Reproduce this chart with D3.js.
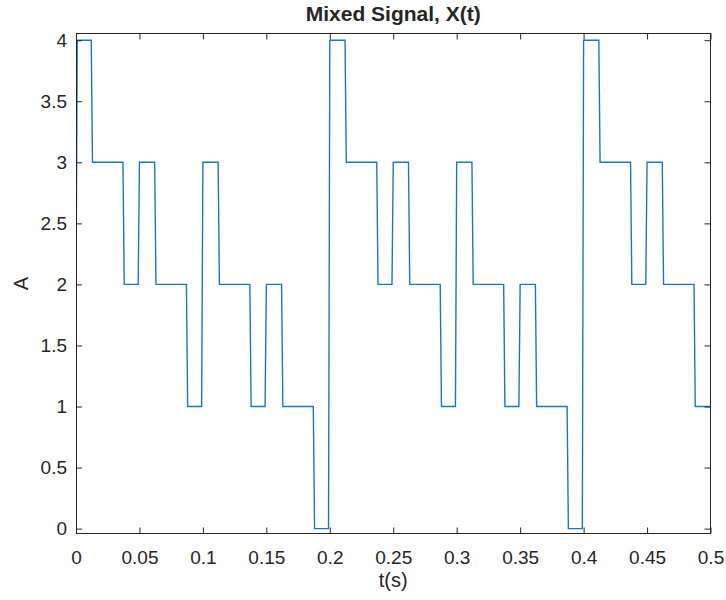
<!DOCTYPE html>
<html>
<head>
<meta charset="utf-8">
<script src="https://cdn.jsdelivr.net/npm/d3@7"></script>
<style>
  html, body { margin: 0; padding: 0; background: #ffffff; }
  svg { display: block; }
  text { font-family: "Liberation Sans", Arial, Helvetica, sans-serif; fill: #262626; }
</style>
</head>
<body>
<svg id="chart" width="726" height="600"></svg>
<script>
// ---- data ----
const timeValues = [
  0.000, 0.001, 0.012, 0.013, 0.037, 0.038, 0.049, 0.050, 0.062, 0.063,
  0.087, 0.088, 0.099, 0.100, 0.112, 0.113, 0.137, 0.138, 0.149, 0.150,
  0.162, 0.163, 0.187, 0.188, 0.199,
  0.200, 0.212, 0.213, 0.237, 0.238, 0.249, 0.250, 0.262, 0.263,
  0.287, 0.288, 0.299, 0.300, 0.312, 0.313, 0.337, 0.338, 0.349, 0.350,
  0.362, 0.363, 0.387, 0.388, 0.399,
  0.400, 0.412, 0.413, 0.437, 0.438, 0.449, 0.450, 0.462, 0.463,
  0.487, 0.488, 0.500
];
const signalValues = [
  2, 4, 4, 3, 3, 2, 2, 3, 3, 2,
  2, 1, 1, 3, 3, 2, 2, 1, 1, 2,
  2, 1, 1, 0, 0,
  4, 4, 3, 3, 2, 2, 3, 3, 2,
  2, 1, 1, 3, 3, 2, 2, 1, 1, 2,
  2, 1, 1, 0, 0,
  4, 4, 3, 3, 2, 2, 3, 3, 2,
  2, 1, 1
];
const xTicks = [0, 0.05, 0.1, 0.15, 0.2, 0.25, 0.3, 0.35, 0.4, 0.45, 0.5];
const xTickLabels = ["0", "0.05", "0.1", "0.15", "0.2", "0.25", "0.3", "0.35", "0.4", "0.45", "0.5"];
const yTicks = [0, 0.5, 1, 1.5, 2, 2.5, 3, 3.5, 4];
const yTickLabels = ["0", "0.5", "1", "1.5", "2", "2.5", "3", "3.5", "4"];
const xDomain = [0, 0.5];
const yDomain = [-0.04, 4.055];
const titleText = "Mixed Signal, X(t)";
const xLabelText = "t(s)";
const yLabelText = "A";

(function () {
  // ---- layout ----
  const pLeft = 76, pRight = 710.5, pTop = 33.5, pBottom = 533.5;
  const axisColor = "#262626";
  const lineColor = "#1a78c2";
  const tickLen = 6;

  const svg = d3.select("#chart");
  const x = d3.scaleLinear().domain(xDomain).range([pLeft, pRight]);
  const y = d3.scaleLinear().domain(yDomain).range([pBottom, pTop]);

  const points = timeValues.map((t, i) => [t, signalValues[i]]);

  svg.append("clipPath").attr("id", "clip")
    .append("rect").attr("x", pLeft).attr("y", pTop)
    .attr("width", pRight - pLeft).attr("height", pBottom - pTop);

  svg.append("path")
    .datum(points)
    .attr("clip-path", "url(#clip)")
    .attr("fill", "none")
    .attr("stroke", lineColor)
    .attr("stroke-width", 1.4)
    .attr("d", d3.line().x(d => x(d[0])).y(d => y(d[1])));

  function styleAxis(g, showLabels) {
    g.select(".domain").remove();
    g.selectAll(".tick line").attr("stroke", axisColor).attr("stroke-width", 1);
    g.selectAll(".tick text")
      .style("font-family", '"Liberation Sans", Arial, Helvetica, sans-serif')
      .style("font-size", "19px")
      .attr("fill", axisColor);
    if (!showLabels) g.selectAll(".tick text").remove();
  }

  svg.append("g").attr("transform", `translate(0,${pBottom})`)
    .call(d3.axisBottom(x).tickValues(xTicks).tickFormat((d, i) => xTickLabels[i])
      .tickSizeInner(-tickLen).tickSizeOuter(0).tickPadding(17))
    .call(g => styleAxis(g, true));

  svg.append("g").attr("transform", `translate(0,${pTop})`)
    .call(d3.axisTop(x).tickValues(xTicks).tickSizeInner(-tickLen).tickSizeOuter(0))
    .call(g => styleAxis(g, false));

  svg.append("g").attr("transform", `translate(${pLeft},0)`)
    .call(d3.axisLeft(y).tickValues(yTicks).tickFormat((d, i) => yTickLabels[i])
      .tickSizeInner(-tickLen).tickSizeOuter(0).tickPadding(9))
    .call(g => styleAxis(g, true));

  svg.append("g").attr("transform", `translate(${pRight},0)`)
    .call(d3.axisRight(y).tickValues(yTicks).tickSizeInner(-tickLen).tickSizeOuter(0))
    .call(g => styleAxis(g, false));

  svg.append("rect")
    .attr("x", pLeft).attr("y", pTop)
    .attr("width", pRight - pLeft).attr("height", pBottom - pTop)
    .attr("fill", "none").attr("stroke", axisColor).attr("stroke-width", 1)
    .attr("shape-rendering", "crispEdges");

  svg.append("text")
    .attr("x", (pLeft + pRight) / 2).attr("y", 21)
    .attr("text-anchor", "middle")
    .style("font-size", "21px").style("font-weight", "bold")
    .attr("fill", "#000000")
    .text(titleText);

  svg.append("text")
    .attr("x", (pLeft + pRight) / 2).attr("y", 587)
    .attr("text-anchor", "middle")
    .style("font-size", "20px")
    .text(xLabelText);

  svg.append("text")
    .attr("transform", `translate(28,${(pTop + pBottom) / 2}) rotate(-90)`)
    .attr("text-anchor", "middle")
    .style("font-size", "20px")
    .text(yLabelText);
})();
</script>
</body>
</html>
